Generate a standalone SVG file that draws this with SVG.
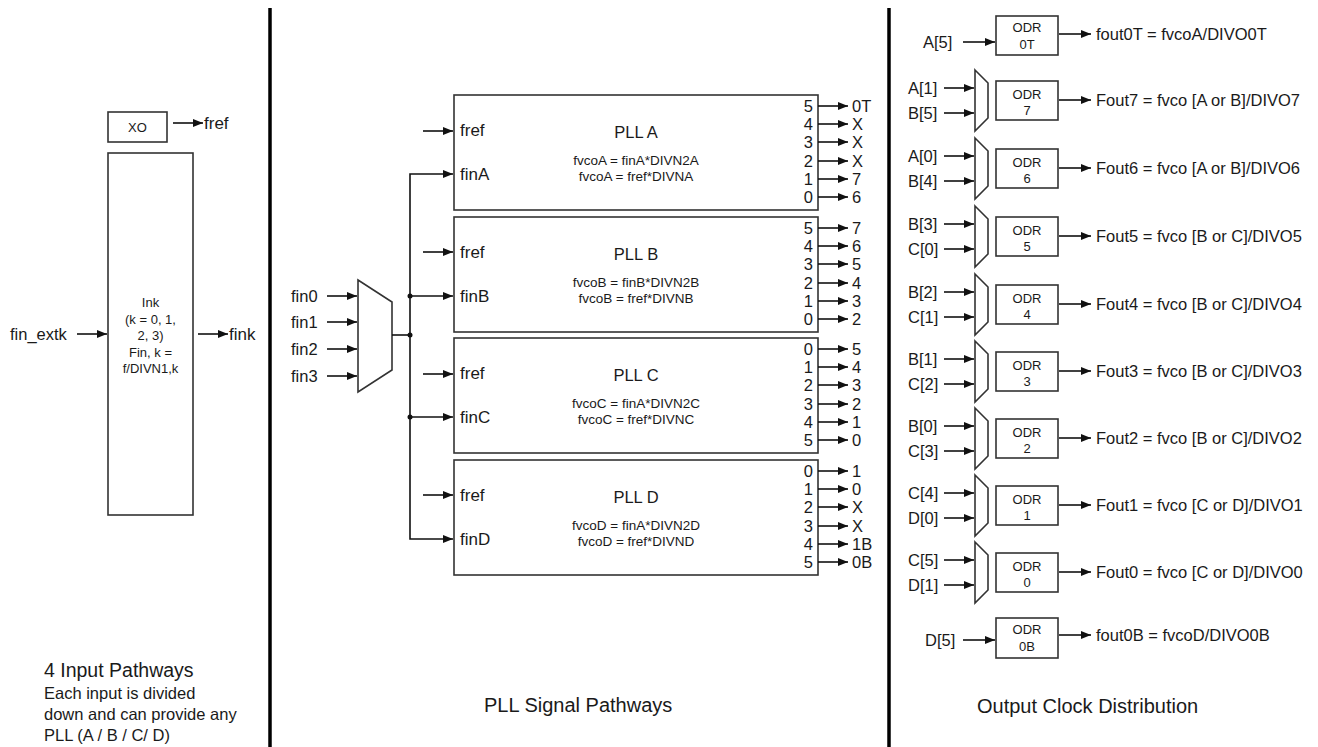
<svg xmlns="http://www.w3.org/2000/svg" width="1318" height="747" viewBox="0 0 1318 747">
<defs>
<style>
text{font-family:"Liberation Sans",Arial,sans-serif;fill:#1a1a1a}
.box{fill:#fff;stroke:#333;stroke-width:1.6}
.ln{stroke:#111;stroke-width:1.6;fill:none}
.ar{stroke:#111;stroke-width:1.6;fill:none;marker-end:url(#ah)}
.div{stroke:#000;stroke-width:3.5}
.mc{text-anchor:middle}
.en{text-anchor:end}
.s13{font-size:13px}.s16{font-size:16.5px}.s17{font-size:17px}.s20{font-size:20px}.f{font-size:13.5px}
</style>
<marker id="ah" markerUnits="userSpaceOnUse" markerWidth="10" markerHeight="8" refX="10" refY="4" orient="auto"><path d="M0,0 L10,4 L0,8 z" fill="#111"/></marker>
</defs>
<rect width="1318" height="747" fill="#fff"/>
<g id="dividers"><line class="div" x1="270" y1="8" x2="270" y2="747"/><line class="div" x1="889" y1="8" x2="889" y2="747"/></g>

<!-- Left panel -->
<g id="xo"><rect class="box" x="108" y="112" width="59" height="30"/><text class="s13 mc" x="137.5" y="132">XO</text></g>
<g id="ink"><rect class="box" x="108" y="153" width="85" height="362"/>
<text class="s13 mc" x="150.5" y="307">Ink</text>
<text class="s13 mc" x="150.5" y="324">(k = 0, 1,</text>
<text class="s13 mc" x="150.5" y="340">2, 3)</text>
<text class="s13 mc" x="150.5" y="357">Fin, k =</text>
<text class="s13 mc" x="150.5" y="373">f/DIVN1,k</text></g>
<g id="left-labels">
<text class="s17" x="204" y="129">fref</text>
<text class="s16" x="10" y="340">fin_extk</text>
<text class="s17" x="229" y="340">fink</text>
<text x="44" y="677" style="font-size:19.5px">4 Input Pathways</text>
<text class="s16" x="44" y="699">Each input is divided</text>
<text class="s16" x="44" y="720">down and can provide any</text>
<text class="s16" x="44" y="741">PLL (A / B / C/ D)</text>
</g>

<!-- Middle panel -->
<g id="mux-in"><polygon class="box" points="358,280 392,302 392,370 358,392"/>
<text class="s16" x="291" y="302">fin0</text>
<text class="s16" x="291" y="328">fin1</text>
<text class="s16" x="291" y="355">fin2</text>
<text class="s16" x="291" y="382">fin3</text></g>

<g id="pll-a"><rect class="box" x="454" y="95" width="364" height="115"/>
<text class="s17" x="460" y="136">fref</text><text class="s17" x="460" y="180">finA</text>
<text class="s16 mc" x="636" y="138">PLL A</text>
<text class="f mc" x="636" y="165">fvcoA = finA*DIVN2A</text><text class="f mc" x="636" y="181">fvcoA = fref*DIVNA</text>
<text class="s16 en" x="813" y="112">5</text><text class="s16 en" x="813" y="130">4</text><text class="s16 en" x="813" y="148">3</text><text class="s16 en" x="813" y="167">2</text><text class="s16 en" x="813" y="185">1</text><text class="s16 en" x="813" y="203">0</text>
<text class="s16" x="852" y="112">0T</text><text class="s16" x="852" y="130">X</text><text class="s16" x="852" y="148">X</text><text class="s16" x="852" y="167">X</text><text class="s16" x="852" y="185">7</text><text class="s16" x="852" y="203">6</text></g>

<g id="pll-b"><rect class="box" x="454" y="217" width="364" height="115"/>
<text class="s17" x="460" y="258">fref</text><text class="s17" x="460" y="302">finB</text>
<text class="s16 mc" x="636" y="260">PLL B</text>
<text class="f mc" x="636" y="287">fvcoB = finB*DIVN2B</text><text class="f mc" x="636" y="303">fvcoB = fref*DIVNB</text>
<text class="s16 en" x="813" y="234">5</text><text class="s16 en" x="813" y="252">4</text><text class="s16 en" x="813" y="270">3</text><text class="s16 en" x="813" y="289">2</text><text class="s16 en" x="813" y="307">1</text><text class="s16 en" x="813" y="325">0</text>
<text class="s16" x="852" y="234">7</text><text class="s16" x="852" y="252">6</text><text class="s16" x="852" y="270">5</text><text class="s16" x="852" y="289">4</text><text class="s16" x="852" y="307">3</text><text class="s16" x="852" y="325">2</text></g>

<g id="pll-c"><rect class="box" x="454" y="338" width="364" height="115"/>
<text class="s17" x="460" y="379">fref</text><text class="s17" x="460" y="423">finC</text>
<text class="s16 mc" x="636" y="381">PLL C</text>
<text class="f mc" x="636" y="408">fvcoC = finA*DIVN2C</text><text class="f mc" x="636" y="424">fvcoC = fref*DIVNC</text>
<text class="s16 en" x="813" y="355">0</text><text class="s16 en" x="813" y="373">1</text><text class="s16 en" x="813" y="391">2</text><text class="s16 en" x="813" y="410">3</text><text class="s16 en" x="813" y="428">4</text><text class="s16 en" x="813" y="446">5</text>
<text class="s16" x="852" y="355">5</text><text class="s16" x="852" y="373">4</text><text class="s16" x="852" y="391">3</text><text class="s16" x="852" y="410">2</text><text class="s16" x="852" y="428">1</text><text class="s16" x="852" y="446">0</text></g>

<g id="pll-d"><rect class="box" x="454" y="460" width="364" height="115"/>
<text class="s17" x="460" y="501">fref</text><text class="s17" x="460" y="545">finD</text>
<text class="s16 mc" x="636" y="503">PLL D</text>
<text class="f mc" x="636" y="530">fvcoD = finA*DIVN2D</text><text class="f mc" x="636" y="546">fvcoD = fref*DIVND</text>
<text class="s16 en" x="813" y="477">0</text><text class="s16 en" x="813" y="495">1</text><text class="s16 en" x="813" y="513">2</text><text class="s16 en" x="813" y="532">3</text><text class="s16 en" x="813" y="550">4</text><text class="s16 en" x="813" y="568">5</text>
<text class="s16" x="852" y="477">1</text><text class="s16" x="852" y="495">0</text><text class="s16" x="852" y="513">X</text><text class="s16" x="852" y="532">X</text><text class="s16" x="852" y="550">1B</text><text class="s16" x="852" y="568">0B</text></g>

<text class="s20" x="484" y="712">PLL Signal Pathways</text>

<!-- Right panel -->
<g id="odr-0t"><rect class="box" x="996" y="16" width="62" height="39"/><text class="s13 mc" x="1027" y="32">ODR</text><text class="s13 mc" x="1027" y="49">0T</text>
<text class="s16" x="923" y="48">A[5]</text><text class="s16" x="1096" y="40">fout0T = fvcoA/DIVO0T</text></g>

<g id="odr-7"><polygon class="box" points="975,70 988,83 988,118 975,131"/><rect class="box" x="996" y="81" width="62" height="39"/><text class="s13 mc" x="1027" y="99">ODR</text><text class="s13 mc" x="1027" y="115">7</text>
<text class="s16" x="908" y="94">A[1]</text><text class="s16" x="908" y="119">B[5]</text><text class="s16" x="1096" y="106">Fout7 = fvco [A or B]/DIVO7</text></g>

<g id="odr-6"><polygon class="box" points="975,138 988,151 988,186 975,199"/><rect class="box" x="996" y="149" width="62" height="39"/><text class="s13 mc" x="1027" y="167">ODR</text><text class="s13 mc" x="1027" y="183">6</text>
<text class="s16" x="908" y="162">A[0]</text><text class="s16" x="908" y="187">B[4]</text><text class="s16" x="1096" y="174">Fout6 = fvco [A or B]/DIVO6</text></g>

<g id="odr-5"><polygon class="box" points="975,206 988,219 988,254 975,267"/><rect class="box" x="996" y="217" width="62" height="39"/><text class="s13 mc" x="1027" y="235">ODR</text><text class="s13 mc" x="1027" y="251">5</text>
<text class="s16" x="908" y="230">B[3]</text><text class="s16" x="908" y="255">C[0]</text><text class="s16" x="1096" y="242">Fout5 = fvco [B or C]/DIVO5</text></g>

<g id="odr-4"><polygon class="box" points="975,274 988,287 988,322 975,335"/><rect class="box" x="996" y="285" width="62" height="39"/><text class="s13 mc" x="1027" y="303">ODR</text><text class="s13 mc" x="1027" y="319">4</text>
<text class="s16" x="908" y="298">B[2]</text><text class="s16" x="908" y="323">C[1]</text><text class="s16" x="1096" y="310">Fout4 = fvco [B or C]/DIVO4</text></g>

<g id="odr-3"><polygon class="box" points="975,341 988,354 988,389 975,402"/><rect class="box" x="996" y="352" width="62" height="39"/><text class="s13 mc" x="1027" y="370">ODR</text><text class="s13 mc" x="1027" y="386">3</text>
<text class="s16" x="908" y="365">B[1]</text><text class="s16" x="908" y="390">C[2]</text><text class="s16" x="1096" y="377">Fout3 = fvco [B or C]/DIVO3</text></g>

<g id="odr-2"><polygon class="box" points="975,408 988,421 988,456 975,469"/><rect class="box" x="996" y="419" width="62" height="39"/><text class="s13 mc" x="1027" y="437">ODR</text><text class="s13 mc" x="1027" y="453">2</text>
<text class="s16" x="908" y="432">B[0]</text><text class="s16" x="908" y="457">C[3]</text><text class="s16" x="1096" y="444">Fout2 = fvco [B or C]/DIVO2</text></g>

<g id="odr-1"><polygon class="box" points="975,475 988,488 988,523 975,536"/><rect class="box" x="996" y="486" width="62" height="39"/><text class="s13 mc" x="1027" y="504">ODR</text><text class="s13 mc" x="1027" y="520">1</text>
<text class="s16" x="908" y="499">C[4]</text><text class="s16" x="908" y="524">D[0]</text><text class="s16" x="1096" y="511">Fout1 = fvco [C or D]/DIVO1</text></g>

<g id="odr-0"><polygon class="box" points="975,542 988,555 988,590 975,603"/><rect class="box" x="996" y="553" width="62" height="39"/><text class="s13 mc" x="1027" y="571">ODR</text><text class="s13 mc" x="1027" y="587">0</text>
<text class="s16" x="908" y="566">C[5]</text><text class="s16" x="908" y="591">D[1]</text><text class="s16" x="1096" y="578">Fout0 = fvco [C or D]/DIVO0</text></g>

<g id="odr-0b"><rect class="box" x="996" y="618" width="62" height="40"/><text class="s13 mc" x="1027" y="634">ODR</text><text class="s13 mc" x="1027" y="651">0B</text>
<text class="s16" x="925" y="646">D[5]</text><text class="s16" x="1096" y="641">fout0B = fvcoD/DIVO0B</text></g>

<text class="s20" x="977" y="713">Output Clock Distribution</text>

<g id="connectors">
<line class="ar" x1="173" y1="123" x2="203" y2="123"/>
<line class="ar" x1="77" y1="334" x2="107" y2="334"/>
<line class="ar" x1="198" y1="334" x2="228" y2="334"/>
<line class="ar" x1="327" y1="296" x2="357" y2="296"/>
<line class="ar" x1="327" y1="322" x2="357" y2="322"/>
<line class="ar" x1="327" y1="349" x2="357" y2="349"/>
<line class="ar" x1="327" y1="376" x2="357" y2="376"/>
<line class="ln" x1="392" y1="335" x2="410" y2="335"/>
<polyline class="ar" points="410,335 410,174 453,174"/>
<polyline class="ar" points="410,335 410,539 453,539"/>
<line class="ar" x1="410" y1="296" x2="453" y2="296"/>
<line class="ar" x1="410" y1="417" x2="453" y2="417"/>
<circle cx="410" cy="296" r="2.5" fill="#111"/><circle cx="410" cy="335" r="2.5" fill="#111"/><circle cx="410" cy="417" r="2.5" fill="#111"/>
<line class="ar" x1="423" y1="131" x2="453" y2="131"/>
<line class="ar" x1="423" y1="252" x2="453" y2="252"/>
<line class="ar" x1="423" y1="374" x2="453" y2="374"/>
<line class="ar" x1="423" y1="495" x2="453" y2="495"/>
<g id="pll-outs">
<line class="ar" x1="818" y1="106" x2="848" y2="106"/><line class="ar" x1="818" y1="124" x2="848" y2="124"/><line class="ar" x1="818" y1="142" x2="848" y2="142"/><line class="ar" x1="818" y1="161" x2="848" y2="161"/><line class="ar" x1="818" y1="179" x2="848" y2="179"/><line class="ar" x1="818" y1="197" x2="848" y2="197"/>
<line class="ar" x1="818" y1="228" x2="848" y2="228"/><line class="ar" x1="818" y1="246" x2="848" y2="246"/><line class="ar" x1="818" y1="264" x2="848" y2="264"/><line class="ar" x1="818" y1="283" x2="848" y2="283"/><line class="ar" x1="818" y1="301" x2="848" y2="301"/><line class="ar" x1="818" y1="319" x2="848" y2="319"/>
<line class="ar" x1="818" y1="349" x2="848" y2="349"/><line class="ar" x1="818" y1="367" x2="848" y2="367"/><line class="ar" x1="818" y1="385" x2="848" y2="385"/><line class="ar" x1="818" y1="404" x2="848" y2="404"/><line class="ar" x1="818" y1="422" x2="848" y2="422"/><line class="ar" x1="818" y1="440" x2="848" y2="440"/>
<line class="ar" x1="818" y1="471" x2="848" y2="471"/><line class="ar" x1="818" y1="489" x2="848" y2="489"/><line class="ar" x1="818" y1="507" x2="848" y2="507"/><line class="ar" x1="818" y1="526" x2="848" y2="526"/><line class="ar" x1="818" y1="544" x2="848" y2="544"/><line class="ar" x1="818" y1="562" x2="848" y2="562"/>
</g>
<g id="odr-ins">
<line class="ar" x1="963" y1="42" x2="995" y2="42"/>
<line class="ar" x1="944" y1="88" x2="974" y2="88"/><line class="ar" x1="944" y1="113" x2="974" y2="113"/>
<line class="ar" x1="944" y1="156" x2="974" y2="156"/><line class="ar" x1="944" y1="181" x2="974" y2="181"/>
<line class="ar" x1="944" y1="224" x2="974" y2="224"/><line class="ar" x1="944" y1="249" x2="974" y2="249"/>
<line class="ar" x1="944" y1="292" x2="974" y2="292"/><line class="ar" x1="944" y1="317" x2="974" y2="317"/>
<line class="ar" x1="944" y1="359" x2="974" y2="359"/><line class="ar" x1="944" y1="384" x2="974" y2="384"/>
<line class="ar" x1="944" y1="426" x2="974" y2="426"/><line class="ar" x1="944" y1="451" x2="974" y2="451"/>
<line class="ar" x1="944" y1="493" x2="974" y2="493"/><line class="ar" x1="944" y1="518" x2="974" y2="518"/>
<line class="ar" x1="944" y1="560" x2="974" y2="560"/><line class="ar" x1="944" y1="585" x2="974" y2="585"/>
<line class="ar" x1="963" y1="640" x2="995" y2="640"/>
</g>
<g id="odr-outs">
<line class="ar" x1="1059" y1="34" x2="1091" y2="34"/>
<line class="ar" x1="1059" y1="100" x2="1091" y2="100"/>
<line class="ar" x1="1059" y1="168" x2="1091" y2="168"/>
<line class="ar" x1="1059" y1="236" x2="1091" y2="236"/>
<line class="ar" x1="1059" y1="304" x2="1091" y2="304"/>
<line class="ar" x1="1059" y1="371" x2="1091" y2="371"/>
<line class="ar" x1="1059" y1="438" x2="1091" y2="438"/>
<line class="ar" x1="1059" y1="505" x2="1091" y2="505"/>
<line class="ar" x1="1059" y1="572" x2="1091" y2="572"/>
<line class="ar" x1="1059" y1="635" x2="1091" y2="635"/>
</g>
</g>
</svg>
